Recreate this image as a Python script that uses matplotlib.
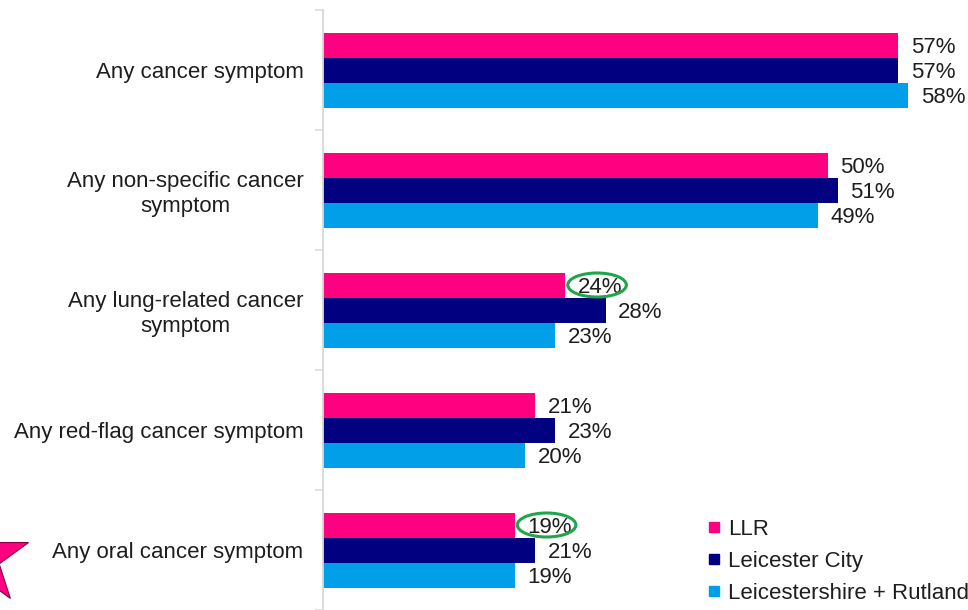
import matplotlib
matplotlib.use("Agg")
import matplotlib.pyplot as plt
import numpy as np
from matplotlib.lines import Line2D
from matplotlib.patches import Ellipse, Polygon

plt.rcParams['font.family'] = ['Liberation Sans', 'DejaVu Sans']

categories = [
    "Any cancer symptom",
    "Any non-specific cancer\nsymptom",
    "Any lung-related cancer\nsymptom",
    "Any red-flag cancer symptom",
    "Any oral cancer symptom",
]
series_names = ["LLR", "Leicester City", "Leicestershire + Rutland"]
llr = [57, 50, 24, 21, 19]
city = [57, 51, 28, 23, 21]
county = [58, 49, 23, 20, 19]
highlighted = [(2, 24), (4, 19)]  # (category index, LLR value) circled

colors = ["#FF0080", "#000080", "#009FE8"]
text_color = "#1E1E1E"
axis_color = "#D9D9D9"

W, H = 968, 610
fig = plt.figure(figsize=(W / 100, H / 100), dpi=100)
ax = fig.add_axes([323 / W, 0.0, 1 - 323 / W, 1 - 10 / H])

y = np.arange(len(categories))
bh = 25 / 120
for k, (vals, col, name) in enumerate(zip([llr, city, county], colors, series_names)):
    pos = y + (k - 1) * bh
    ax.barh(pos, vals, height=bh, color=col, label=name)
    for p, v in zip(pos, vals):
        ax.annotate(f"{v}%", (v, p), xytext=(9, -1.5), textcoords="offset points",
                    ha="left", va="center", fontsize=16, color=text_color)

# green rings around highlighted figures
for idx, v in highlighted:
    ax.add_patch(Ellipse((v + 3.15, y[idx] - bh), width=5.8, height=0.2,
                         fill=False, edgecolor="#1FA64A", lw=2.2, zorder=5))

ax.set_xlim(0, 63.9)
ax.set_ylim(len(categories) - 0.5, -0.5)
ax.set_yticks(y)
ax.set_yticklabels(categories, fontsize=16, color=text_color, ha="right",
                   multialignment="center")
ax.set_yticks(np.arange(len(categories) + 1) - 0.5, minor=True)
ax.tick_params(axis="y", which="major", length=0, pad=14)
ax.tick_params(axis="y", which="minor", length=5.5, width=1.1, color=axis_color)
ax.set_xticks([])
for s in ["top", "right", "bottom"]:
    ax.spines[s].set_visible(False)
ax.spines["left"].set_color(axis_color)
ax.spines["left"].set_linewidth(1.3)

handles = [Line2D([], [], marker="s", linestyle="none", markersize=7.5,
                  markerfacecolor=c, markeredgecolor=c) for c in colors]
leg = fig.legend(handles, series_names, loc="upper left",
                 bbox_to_anchor=(707 / W, 1 - 519 / H), frameon=False,
                 fontsize=16, handlelength=0.6, handletextpad=0.35,
                 labelspacing=0.5, borderaxespad=0, borderpad=0)
for t in leg.get_texts():
    t.set_color(text_color)

# pink star marker at the lower left
cx, cy, r_out = -19, H - 558, 50
r_in = r_out * 0.382
pts = []
for i in range(10):
    ang = np.deg2rad(90 + i * 36)
    r = r_out if i % 2 == 0 else r_in
    pts.append(((cx + r * np.cos(ang)) / W, (cy + r * np.sin(ang)) / H))
fig.patches.append(Polygon(pts, closed=True, transform=fig.transFigure,
                           facecolor="#FF0080", edgecolor="#8A0040", lw=0.8))

fig.savefig("out.png", dpi=100)
